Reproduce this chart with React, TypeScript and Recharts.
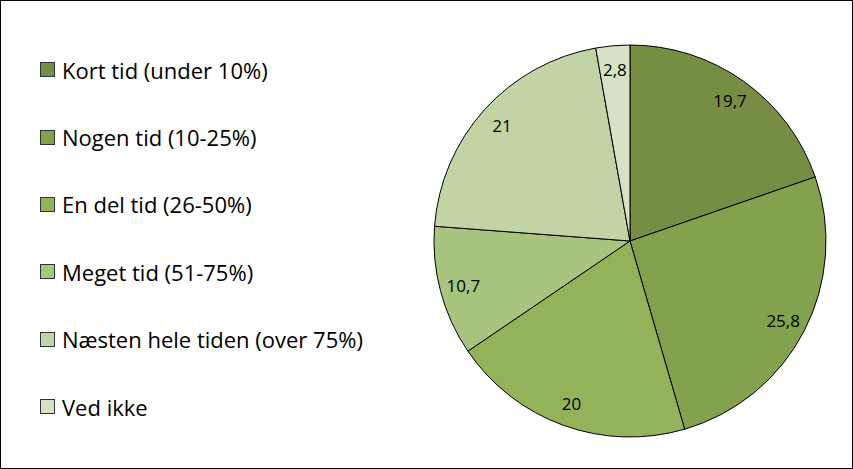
import { PieChart, Pie, Cell, Legend } from 'recharts'

const categories = [
  'Kort tid (under 10%)',
  'Nogen tid (10-25%)',
  'En del tid (26-50%)',
  'Meget tid (51-75%)',
  'Næsten hele tiden (over 75%)',
  'Ved ikke',
]
const values = [19.7, 25.8, 20, 10.7, 21, 2.8]
const colors = ['#758E43', '#84A14D', '#94B259', '#A8C47E', '#C2D3A5', '#D6E1C5']

const data = categories.map((name, i) => ({ name, value: values[i] }))

const RAD = Math.PI / 180
const FONT = '"Open Sans", "Noto Sans", sans-serif'

function renderLabel(props: any) {
  const { cx, cy, outerRadius, midAngle, value } = props
  const r = outerRadius * 0.88
  const x = cx + r * Math.cos(-midAngle * RAD)
  const y = cy + r * Math.sin(-midAngle * RAD)
  return (
    <text x={x} y={y} textAnchor="middle" dominantBaseline="central" fontSize={17} fill="#000" fontFamily={FONT}>
      {String(value).replace('.', ',')}
    </text>
  )
}

function renderLegend() {
  return (
    <div style={{ fontFamily: FONT }}>
      {data.map((d, i) => (
        <div key={d.name} style={{ display: 'flex', alignItems: 'center', height: 67.4 }}>
          <span
            style={{
              width: 15,
              height: 15,
              background: colors[i],
              border: '1px solid #333',
              marginRight: 7,
              boxSizing: 'border-box',
              flexShrink: 0,
            }}
          />
          <span style={{ fontSize: 22, color: '#000', whiteSpace: 'nowrap' }}>{d.name}</span>
        </div>
      ))}
    </div>
  )
}

export default function App() {
  return (
    <div
      style={{
        position: 'absolute',
        top: 0,
        left: 0,
        width: 853,
        height: 469,
        border: '1px solid #000',
        boxSizing: 'border-box',
        background: '#fff',
      }}
    >
      <PieChart width={851} height={467}>
        <Legend
          layout="vertical"
          align="center"
          verticalAlign="middle"
          content={renderLegend}
          wrapperStyle={{ left: 39, top: 35, width: 340 }}
        />
        <Pie
          data={data}
          dataKey="value"
          nameKey="name"
          cx={624}
          cy={235}
          outerRadius={196}
          startAngle={90}
          endAngle={-270}
          stroke="#000"
          strokeWidth={1}
          label={renderLabel}
          labelLine={false}
          isAnimationActive={false}
        >
          {data.map((d, i) => (
            <Cell key={d.name} fill={colors[i]} />
          ))}
        </Pie>
      </PieChart>
    </div>
  )
}
